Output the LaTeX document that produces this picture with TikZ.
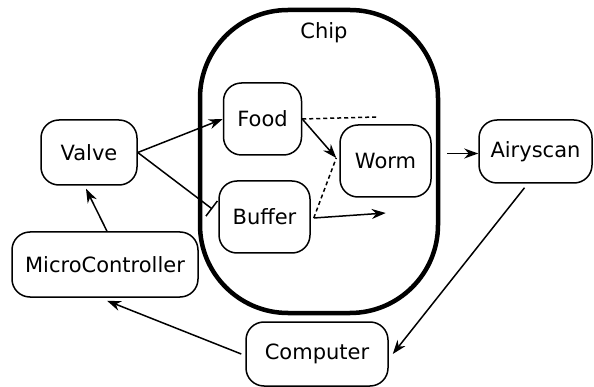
\documentclass[tikz,border=0pt]{standalone}
\usepackage{fontspec}
\setmainfont{DejaVu Sans}
\usetikzlibrary{arrows.meta,calc}
\begin{document}
\begin{tikzpicture}[x=1pt,y=-1pt,
  box/.style={draw,line width=1.5pt,rounded corners=18pt,inner sep=0pt,font=\fontsize{21}{25}\selectfont},
  chipbox/.style={draw,line width=4.5pt,rounded corners=88pt,inner sep=0pt},
  conn/.style={line width=1.5pt,-{Stealth[length=14pt,width=10pt,inset=4.5pt]}},
  dashline/.style={line width=1.5pt,dash pattern=on 4pt off 3pt},
  inhib/.style={line width=1.5pt,-{Bar[width=19pt,line width=1.5pt]}}]
\useasboundingbox (0,0) rectangle (594,387);
\node[chipbox,minimum width=238pt,minimum height=303pt] (chip) at (319,161.5) {};
\node[font=\fontsize{21}{25}\selectfont] (chiplabel) at (324,33) {Chip};
\node[box,minimum width=78pt,minimum height=72pt] (food) at (262.5,119) {Food};
\node[box,minimum width=91pt,minimum height=72pt] (worm) at (385.5,161) {Worm};
\node[box,minimum width=91pt,minimum height=72pt] (buffer) at (264.5,217) {Buffer};
\node[box,minimum width=96pt,minimum height=65pt] (valve) at (89,152.5) {Valve};
\node[box,minimum width=186pt,minimum height=65pt] (micro) at (105,264.5) {MicroController};
\node[box,minimum width=142pt,minimum height=64pt] (computer) at (317,354) {Computer};
\node[box,minimum width=113pt,minimum height=63pt] (airyscan) at (535.5,151.5) {Airyscan};
\coordinate (foodend) at ($(food.east)+(74,-2)$);
\coordinate (bufend) at ($(buffer.east)+(75,-4)$);
\coordinate (wormin) at ($(worm.west)+(-3,-3)$);
\draw[conn] (valve.east) -- (food.west);
\draw[inhib] (valve.east) -- ([xshift=-6pt,yshift=8pt]buffer.west);
\draw[conn] (food.east) -- (wormin);
\draw[dashline] (food.east) -- (foodend);
\draw[dashline] ([xshift=3pt,yshift=-1pt]buffer.east) -- (wormin);
\draw[conn] ([xshift=3pt,yshift=-1pt]buffer.east) -- (bufend);
\draw[conn] ($(chip.east |- airyscan.west)+(7,2)$) -- ($(airyscan.west)+(0,2)$);
\draw[conn] ([xshift=-11pt,yshift=-4pt]airyscan.south) -- ([xshift=4pt]computer.east);
\draw[conn] ([xshift=-4pt]computer.west) -- ([xshift=2pt,yshift=-3pt]micro.south);
\draw[conn] ([xshift=2pt]micro.north) -- ([xshift=-3pt,yshift=-3pt]valve.south);
\end{tikzpicture}
\end{document}
